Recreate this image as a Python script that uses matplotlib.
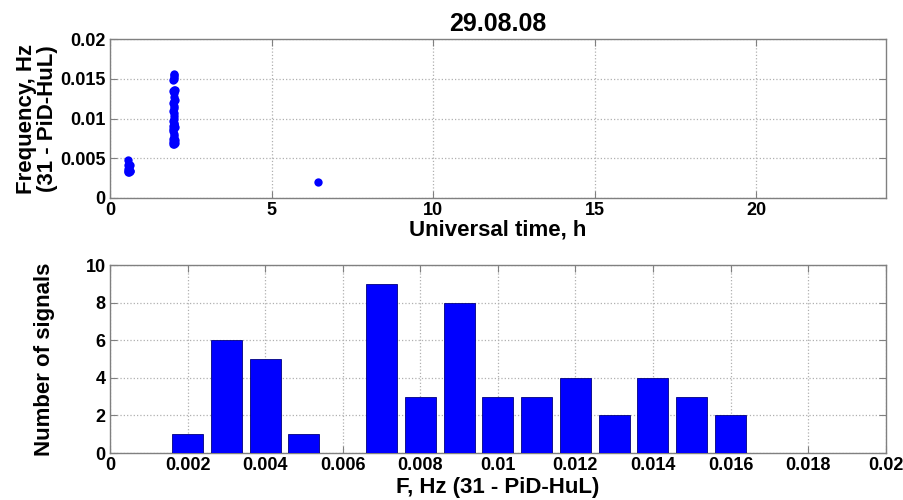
import matplotlib.pyplot as plt
import numpy as np

plt.rcParams['font.family'] = ['Liberation Sans', 'DejaVu Sans']
plt.rcParams['font.weight'] = 'bold'

# Signal times (UT, h) and frequencies (Hz), 31 - PiD-HuL
ut_h = [0.55, 0.58, 0.60, 0.62, 0.57, 0.61,
        0.55, 0.60, 0.58, 0.62, 0.56,
        0.57,
        1.95, 1.98, 2.00, 1.96, 1.99, 1.97, 2.00, 1.95, 1.98,
        1.97, 1.99, 1.96,
        1.95, 1.98, 2.00, 1.97, 1.96, 1.99, 1.98, 1.97,
        1.96, 1.99, 1.97,
        1.98, 1.96, 1.99,
        1.97, 1.95, 1.98, 2.00,
        1.97, 1.98,
        1.95, 1.99, 1.97, 2.00,
        1.96, 1.98, 1.97,
        1.97, 1.98,
        6.43]
freq_hz = [0.0033, 0.0033, 0.0034, 0.0034, 0.0034, 0.0034,
           0.0036, 0.0038, 0.0040, 0.0041, 0.0042,
           0.0048,
           0.0068, 0.0068, 0.0069, 0.0070, 0.0071, 0.0072, 0.0073, 0.0074, 0.0074,
           0.0078, 0.0081, 0.0084,
           0.0087, 0.0088, 0.0089, 0.0090, 0.0091, 0.0092, 0.0093, 0.0094,
           0.0097, 0.0100, 0.0103,
           0.0107, 0.0110, 0.0113,
           0.0116, 0.0119, 0.0122, 0.0123,
           0.0127, 0.0132,
           0.0135, 0.0135, 0.0136, 0.0136,
           0.0148, 0.0150, 0.0152,
           0.0155, 0.0156,
           0.0020]

# Histogram of frequencies
bin_centers = [0.002, 0.003, 0.004, 0.005, 0.006, 0.007, 0.008, 0.009,
               0.010, 0.011, 0.012, 0.013, 0.014, 0.015, 0.016]
counts = [1, 6, 5, 1, 0, 9, 3, 8, 3, 3, 4, 2, 4, 3, 2]

fig = plt.figure(figsize=(9.04, 5.0), dpi=100)
ax1 = fig.add_axes([0.1217, 0.604, 0.858, 0.318])
ax2 = fig.add_axes([0.1217, 0.094, 0.858, 0.376])

spine_col = '#808080'
for ax in (ax1, ax2):
    for s in ax.spines.values():
        s.set_color(spine_col)
        s.set_linewidth(1.0)
    ax.tick_params(direction='in', top=True, right=True, length=5,
                   color=spine_col, labelsize=13, pad=3)
    ax.grid(True, linestyle=':', color='#b0b0b0', linewidth=0.9)
    ax.set_axisbelow(True)

# Top: scatter
ax1.plot(ut_h, freq_hz, 'o', color='#0000ff', markersize=6, markeredgewidth=0)
ax1.set_xlim(0, 24)
ax1.set_ylim(0, 0.02)
ax1.set_xticks([0, 5, 10, 15, 20])
ax1.set_yticks([0, 0.005, 0.01, 0.015, 0.02])
ax1.set_yticklabels(['0', '0.005', '0.01', '0.015', '0.02'])
ax1.set_xlabel('Universal time, h', fontsize=16, fontweight='bold', labelpad=0)
ax1.set_ylabel('Frequency, Hz\n(31 - PiD-HuL)', fontsize=16, fontweight='bold',
               linespacing=0.95, labelpad=2)
ax1.set_title('29.08.08', fontsize=18, fontweight='bold', pad=6)

# Bottom: histogram
ax2.bar(bin_centers, counts, width=0.0008, color='#0000ff', edgecolor='#000080',
        linewidth=0.6, zorder=3)
ax2.set_xlim(0, 0.02)
ax2.set_ylim(0, 10)
ax2.set_xticks(np.arange(0, 0.0201, 0.002))
ax2.set_xticklabels(['0', '0.002', '0.004', '0.006', '0.008', '0.01',
                     '0.012', '0.014', '0.016', '0.018', '0.02'])
ax2.set_yticks([0, 2, 4, 6, 8, 10])
ax2.set_xlabel('F, Hz (31 - PiD-HuL)', fontsize=16, fontweight='bold', labelpad=2)
ax2.set_ylabel('Number of signals', fontsize=16, fontweight='bold', labelpad=22)

for ax in (ax1, ax2):
    for lab in ax.get_xticklabels() + ax.get_yticklabels():
        lab.set_fontweight('bold')

fig.savefig('out.png', dpi=100)
